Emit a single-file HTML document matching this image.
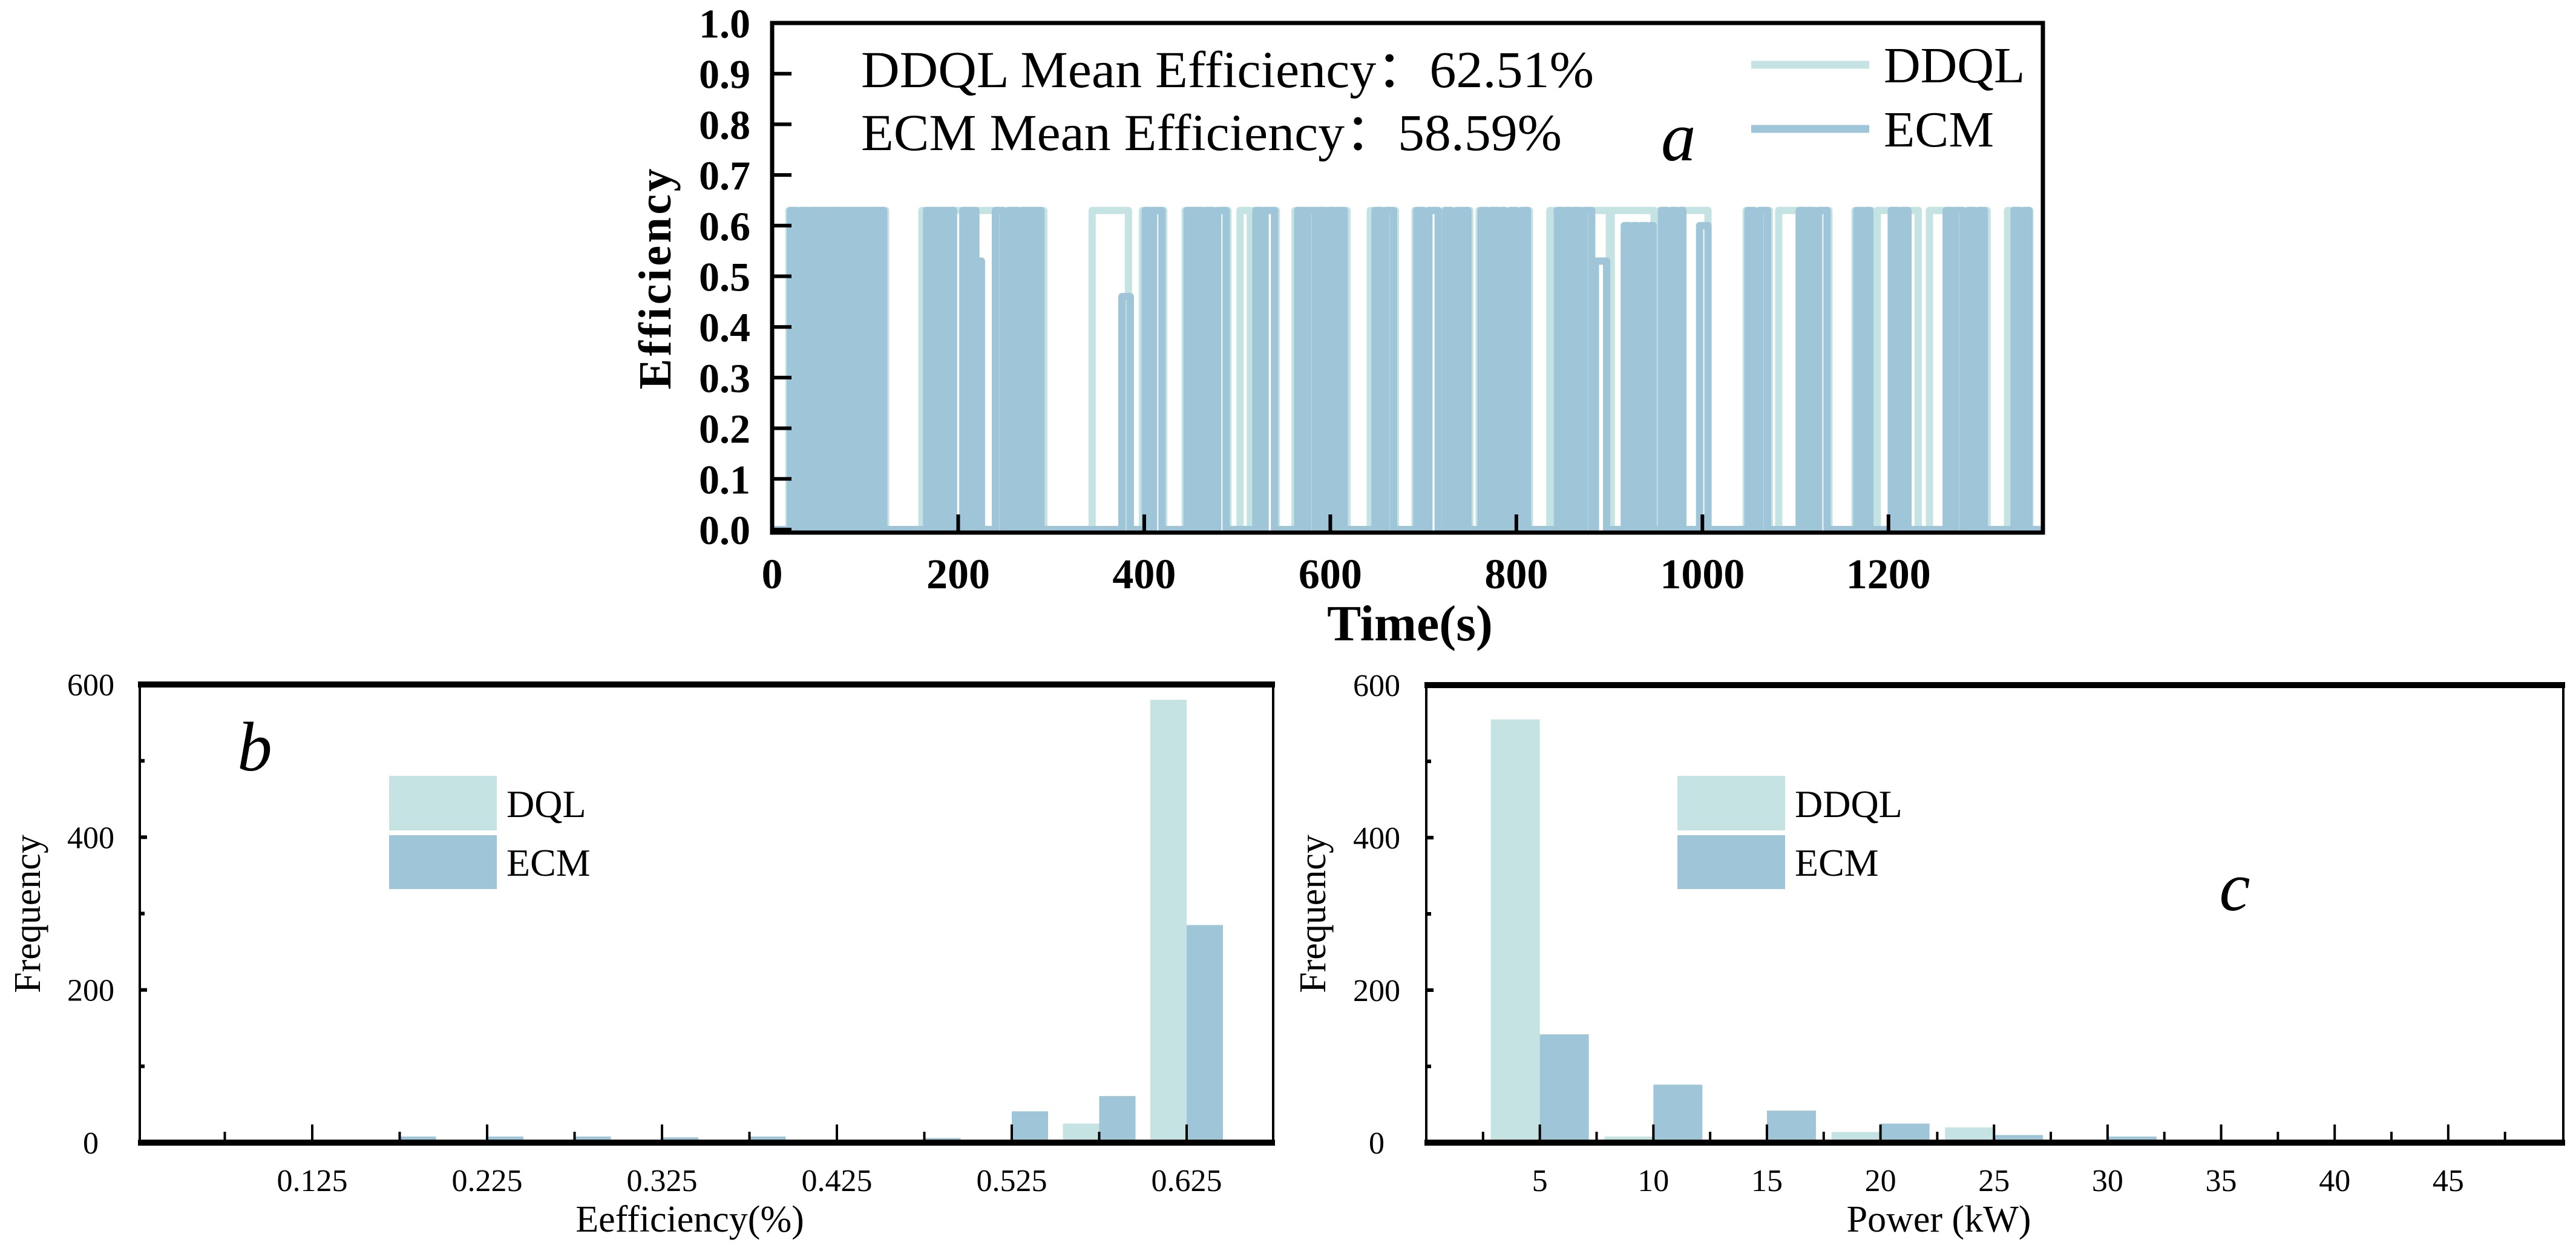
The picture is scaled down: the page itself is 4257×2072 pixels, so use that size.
<!DOCTYPE html>
<html><head><meta charset="utf-8">
<style>html,body{margin:0;padding:0;background:#fff}svg{display:block}</style></head>
<body>
<svg id="fig" width="4257" height="2072" viewBox="0 0 4257 2072" xmlns="http://www.w3.org/2000/svg" font-family="'Liberation Serif', serif">
<g id="pa"></g>
<g id="pb"></g>
<g id="pc"></g>
</svg>
<script>
// ---- chart a data (pulses: start s, end s, level) ----
const ddqlStart=[18,161,344,398,444,503,518,562,643,691,722,760,792,836,902,954,1047,1082,1164,1188,1244,1328];
const ddqlEnd=[122,292,383,421,490,514,542,618,670,716,750,790,814,900,948,1006,1072,1136,1182,1232,1306,1352];
const ddqlLevel=[0.63,0.63,0.63,0.63,0.63,0.63,0.63,0.63,0.63,0.63,0.63,0.63,0.63,0.63,0.63,0.63,0.63,0.63,0.63,0.63,0.63,0.63];
const ecmStart=[19.6,31,41.5,48,55,62,69,76,83,89,96,103,110,117,
 166,176,184,191,205,213,220,240,254,261,269,277,285,
 376,401,410,446,453,458,467,479,520,530,565,576,588,598,608,648,
 660,693,706,724,736,745,762,773,784,794,806,844,854,862,
 873,885,916,926,934,944,956,967,976,997,1049,1062,1104,
 1114,1125,1166,1176,1203,1214,1262,1272,1286,1297,1335,1346];
const ecmEnd=[26.5,38,46,53,60,67,74,81,86,94,101,108,115,120,
 173,181,189,195,210,219,225,248,258,264,274,282,289,
 385,406,419,451,456,463,474,488,526,540,572,584,594,604,615,655,
 668,700,716,730,742,748,768,780,787,800,812,850,858,868,
 881,897,922,930,940,947,962,972,979,1006,1055,1070,1110,
 1120,1134,1172,1180,1210,1221,1268,1280,1292,1303,1341,1351];
const ecmLevel=[0.63,0.63,0.63,0.63,0.63,0.63,0.63,0.63,0.63,0.63,0.63,0.63,0.63,0.63,
 0.63,0.63,0.63,0.63,0.63,0.63,0.53,0.63,0.63,0.63,0.63,0.63,0.63,
 0.46,0.63,0.63,0.63,0.63,0.63,0.63,0.63,0.63,0.63,0.63,0.63,0.63,0.63,0.63,0.63,
 0.63,0.63,0.63,0.63,0.63,0.63,0.63,0.63,0.63,0.63,0.63,0.63,0.63,0.63,
 0.63,0.53,0.6,0.6,0.6,0.6,0.63,0.63,0.63,0.6,0.63,0.63,0.63,
 0.63,0.63,0.63,0.63,0.63,0.63,0.63,0.63,0.63,0.63,0.63,0.63];
const aXTicks=[0,200,400,600,800,1000,1200];
const aYTicks=[0,0.1,0.2,0.3,0.4,0.5,0.6,0.7,0.8,0.9,1.0];
const aYLabels=["0.0","0.1","0.2","0.3","0.4","0.5","0.6","0.7","0.8","0.9","1.0"];
// ---- chart b data ----
const bCats=[0.175,0.225,0.275,0.325,0.375,0.425,0.475,0.525,0.575,0.625];
const bDdql=[0,0,0,0,0,0,0,0,25,580];
const bEcm=[8,8,8,7,8,4,6,41,61,285];
const bXTicks=[0.125,0.225,0.325,0.425,0.525,0.625];
const bXLabels=["0.125","0.225","0.325","0.425","0.525","0.625"];
const bYTicks=[0,200,400,600];
// ---- chart c data ----
const cCats=[5,10,15,20,25,30,35,40,45];
const cDdql=[555,8,4,14,20,0,0,0,0];
const cEcm=[142,76,42,25,10,8,4,0,2];
const cXTicks=[5,10,15,20,25,30,35,40,45];
const cYTicks=[0,200,400,600];

const NS="http://www.w3.org/2000/svg";
function mk(p,tag,at,txt){const e=document.createElementNS(NS,tag);for(const k in at)e.setAttribute(k,at[k]);if(txt!==undefined)e.textContent=txt;p.appendChild(e);return e;}

// ===== Chart a =====
(function(){
const g=document.getElementById('pa');
const L=1276,R=3376,T=38,B=880,Y0=875,Y1=38,XMAX=1366;
const x=t=>L+t*(R-L)/XMAX, y=v=>Y0-v*(Y0-Y1);
function series(S,E,V,col,name){
  let d=`M${x(0)},${y(0)}`;
  for(let i=0;i<S.length;i++){d+=` L${x(S[i])},${y(0)} L${x(S[i])},${y(V[i])} L${x(E[i])},${y(V[i])} L${x(E[i])},${y(0)}`;}
  d+=` L${x(XMAX)},${y(0)}`;
  const p=mk(g,'path',{d:d,fill:'none',stroke:col,'stroke-width':12,'stroke-linejoin':'round'});
  
  
}
series(ddqlStart,ddqlEnd,ddqlLevel,'#c5e3e3','ddql-line');
series(ecmStart,ecmEnd,ecmLevel,'#9fc5d9','ecm-line');
const fr=mk(g,'rect',{x:L,y:T,width:R-L,height:B-T,fill:'none',stroke:'#000','stroke-width':7});


aYTicks.forEach((v,i)=>{
  mk(g,'line',{x1:L,x2:L+32,y1:y(v),y2:y(v),stroke:'#000','stroke-width':6});
  const t=mk(g,'text',{x:1240,y:y(v)+24,'text-anchor':'end','font-size':68,'font-weight':'bold'},aYLabels[i]);
  
  
});
aXTicks.forEach(v=>{
  mk(g,'line',{x1:x(v),x2:x(v),y1:B,y2:B-30,stroke:'#000','stroke-width':6});
  const t=mk(g,'text',{x:x(v),y:972,'text-anchor':'middle','font-size':70,'font-weight':'bold'},String(v));
  
  
});
let t=mk(g,'text',{x:2330,y:1058,'text-anchor':'middle','font-size':84,'font-weight':'bold'},'Time(s)');

t=mk(g,'text',{x:0,y:0,'text-anchor':'middle','font-size':76,'font-weight':'bold',textLength:365,transform:'translate(1108,461) rotate(-90)'},'Efficiency');

t=mk(g,'text',{x:1423,y:144,'font-size':86,textLength:1211,lengthAdjust:'spacingAndGlyphs'},'DDQL Mean Efficiency：62.51%');

t=mk(g,'text',{x:1423,y:248,'font-size':86,textLength:1158,lengthAdjust:'spacingAndGlyphs'},'ECM Mean Efficiency：58.59%');

t=mk(g,'text',{x:2745,y:265,'font-size':115,'font-style':'italic'},'a');

let l=mk(g,'line',{x1:2894,x2:3089,y1:107,y2:107,stroke:'#c5e3e3','stroke-width':13});

t=mk(g,'text',{x:3113,y:136,'font-size':84},'DDQL');

l=mk(g,'line',{x1:2894,x2:3089,y1:213,y2:213,stroke:'#9fc5d9','stroke-width':13});

t=mk(g,'text',{x:3113,y:242,'font-size':84},'ECM');

})();

// ===== Histograms =====
function hist(id,o){
const g=document.getElementById(id);
const {L,R,T,B,x,bw,cats,d1,d2}=o;
const y=v=>B-v*(B-T)/600;
cats.forEach((c,i)=>{
  if(d1[i]>0){const r=mk(g,'rect',{x:x(c)-bw,y:y(d1[i]),width:bw,height:B-y(d1[i]),fill:'#c5e3e3'});
  }
  if(d2[i]>0){const r=mk(g,'rect',{x:x(c),y:y(d2[i]),width:bw,height:B-y(d2[i]),fill:'#9fc5d9'});
  }
});
mk(g,'line',{x1:L,x2:L,y1:T,y2:B,stroke:'#000','stroke-width':4});
mk(g,'line',{x1:R,x2:R,y1:T,y2:B,stroke:'#000','stroke-width':4});
mk(g,'line',{x1:L-3,x2:R+3,y1:T,y2:T,stroke:'#000','stroke-width':10});
const ax=mk(g,'line',{x1:L-3,x2:R+3,y1:B,y2:B,stroke:'#000','stroke-width':10});

for(let v=0;v<=600;v+=100){mk(g,'line',{x1:L,x2:L+(v%200?8:12),y1:y(v),y2:y(v),stroke:'#000','stroke-width':6});}
o.yTicks.forEach(v=>{const t=mk(g,'text',{x:o.yLabX,y:y(v)+18,'text-anchor':'middle','font-size':52},String(v));
  });
o.minor.forEach((v,i)=>{mk(g,'line',{x1:x(v),x2:x(v),y1:B,y2:B-(o.major(i)?30:18),stroke:'#000','stroke-width':4});});
o.xTicks.forEach((v,i)=>{const t=mk(g,'text',{x:x(v),y:1968,'text-anchor':'middle','font-size':52},o.xLabels[i]);
  });
let t=mk(g,'text',{x:o.xTitleX,y:2035,'text-anchor':'middle','font-size':62},o.xTitle);

t=mk(g,'text',{x:0,y:0,'text-anchor':'middle','font-size':62,transform:`translate(${o.yTitleX},1510) rotate(-90)`},'Frequency');

let r=mk(g,'rect',{x:o.legX,y:1282,width:178,height:90,fill:'#c5e3e3'});

r=mk(g,'rect',{x:o.legX,y:1380,width:178,height:89,fill:'#9fc5d9'});

t=mk(g,'text',{x:o.legX+194,y:1350,'font-size':64},o.leg1);

t=mk(g,'text',{x:o.legX+194,y:1447,'font-size':64},'ECM');

t=mk(g,'text',{x:o.pX,y:o.pY,'font-size':115,'font-style':'italic','text-anchor':'middle'},o.pLabel);

}
const bMinor=[];for(let k=0;k<12;k++)bMinor.push(0.075+k*0.05);
hist('pb',{L:231,R:2104,T:1131,B:1888,x:v=>516+(v-0.125)*2890,bw:60,cats:bCats,d1:bDdql,d2:bEcm,
 yTicks:bYTicks,yLabX:150,minor:bMinor,major:i=>i%2===1,xTicks:bXTicks,xLabels:bXLabels,
 xTitle:'Eefficiency(%)',xTitleX:1140,yTitleX:66,legX:643,leg1:'DQL',pX:421,pY:1273,pLabel:'b'});
const cMinor=[];for(let k=0;k<19;k++)cMinor.push(2.5+k*2.5);
hist('pc',{L:2357,R:4236,T:1132,B:1888,x:v=>2357+v*37.53,bw:81,cats:cCats,d1:cDdql,d2:cEcm,
 yTicks:cYTicks,yLabX:2275,minor:cMinor,major:i=>i%2===1,xTicks:cXTicks,xLabels:cXTicks.map(String),
 xTitle:'Power (kW)',xTitleX:3204,yTitleX:2190,legX:2772,leg1:'DDQL',pX:3693,pY:1504,pLabel:'c'});
</script>
</body></html>
